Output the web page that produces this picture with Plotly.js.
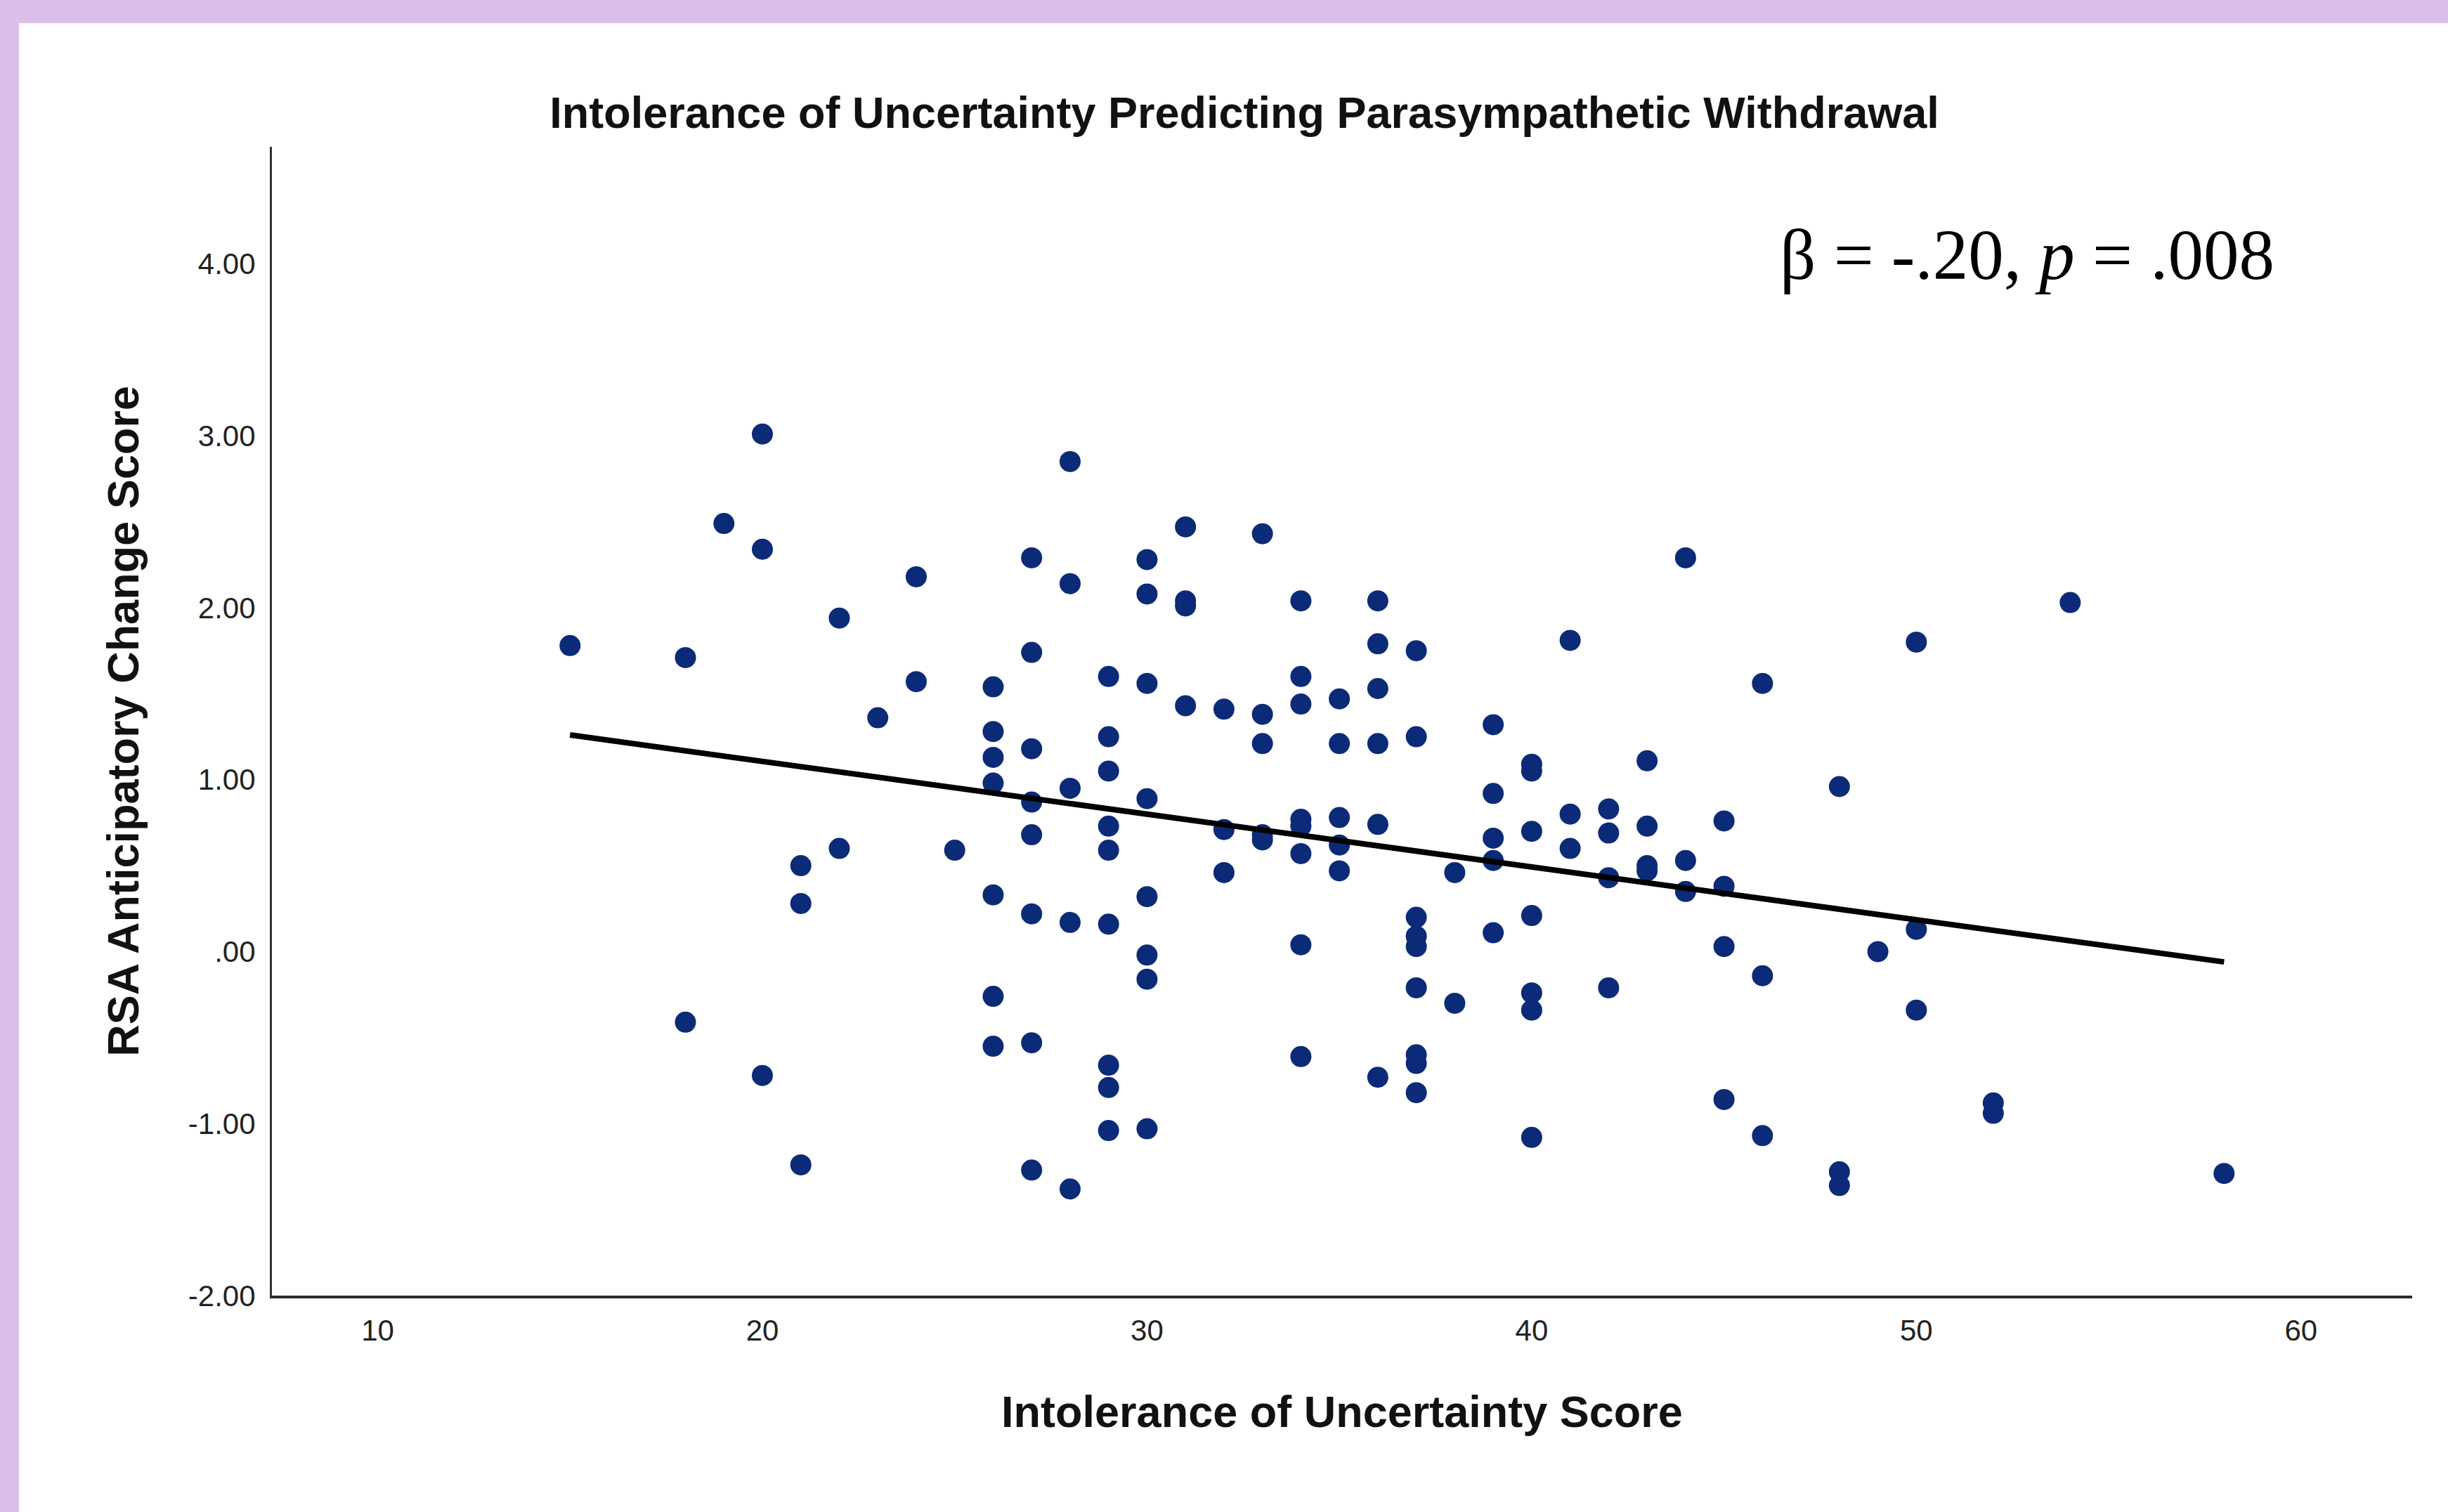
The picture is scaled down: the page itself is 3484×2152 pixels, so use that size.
<!DOCTYPE html>
<html>
<head>
<meta charset="utf-8">
<script src="https://cdn.plot.ly/plotly-3.0.1.min.js"></script>
<style>
  html, body { margin: 0; padding: 0; background: #dabfe8; width: 3484px; height: 2152px; overflow: hidden; }
  #plot { position: absolute; left: 27px; top: 33px; width: 3457px; height: 2119px; background: #ffffff; }
</style>
</head>
<body>
<div id="plot"></div>
<script>
// Intolerance of Uncertainty score (x) and RSA anticipatory change score (y)
const iuScore = [
  15,
  18, 18,
  19,
  20, 20, 20,
  21, 21, 21,
  22, 22,
  23,
  24, 24,
  25,
  26, 26, 26, 26, 26, 26, 26,
  27, 27, 27, 27, 27, 27, 27, 27,
  28, 28, 28, 28, 28,
  29, 29, 29, 29, 29, 29, 29, 29, 29,
  30, 30, 30, 30, 30, 30, 30, 30,
  31, 31, 31, 31,
  32, 32, 32,
  33, 33, 33, 33, 33,
  34, 34, 34, 34, 34, 34, 34, 34,
  35, 35, 35, 35, 35,
  36, 36, 36, 36, 36, 36,
  37, 37, 37, 37, 37, 37, 37, 37, 37,
  38, 38,
  39, 39, 39, 39, 39,
  40, 40, 40, 40, 40, 40, 40,
  41, 41, 41,
  42, 42, 42, 42,
  43, 43, 43, 43,
  44, 44, 44,
  45, 45, 45, 45,
  46, 46, 46,
  48, 48, 48,
  49,
  50, 50, 50,
  52, 52,
  54,
  58
];
const rsaChange = [
  1.78,
  1.71, -0.41,
  2.49,
  3.01, 2.34, -0.72,
  0.50, 0.28, -1.24,
  1.94, 0.60,
  1.36,
  2.18, 1.57,
  0.59,
  1.54, 1.28, 1.13, 0.98, 0.33, -0.26, -0.55,
  2.29, 1.74, 1.18, 0.87, 0.68, 0.22, -0.53, -1.27,
  2.85, 2.14, 0.95, 0.17, -1.38,
  1.60, 1.25, 1.05, 0.73, 0.59, 0.16, -0.66, -0.79, -1.04,
  2.28, 2.08, 1.56, 0.89, 0.32, -0.02, -0.16, -1.03,
  2.47, 2.04, 2.01, 1.43,
  1.41, 0.71, 0.46,
  2.43, 1.38, 1.21, 0.68, 0.65,
  2.04, 1.60, 1.44, 0.77, 0.73, 0.57, 0.04, -0.61,
  1.47, 1.21, 0.78, 0.62, 0.47,
  2.04, 1.79, 1.53, 1.21, 0.74, -0.73,
  1.75, 1.25, 0.20, 0.09, 0.03, -0.21, -0.60, -0.65, -0.82,
  0.46, -0.30,
  1.32, 0.92, 0.66, 0.53, 0.11,
  1.09, 1.05, 0.70, 0.21, -0.24, -0.34, -1.08,
  1.81, 0.80, 0.60,
  0.83, 0.69, 0.43, -0.21,
  1.11, 0.73, 0.50, 0.47,
  2.29, 0.53, 0.35,
  0.76, 0.38, 0.03, -0.86,
  1.56, -0.14, -1.07,
  0.96, -1.28, -1.36,
  0.00,
  1.80, 0.13, -0.34,
  -0.88, -0.94,
  2.03,
  -1.29
];

// Regression line end points
const fitX = [15, 58];
const fitY = [1.26, -0.06];

// Tick labels
const xTickVals = [10, 20, 30, 40, 50, 60];
const xTickText = ["10", "20", "30", "40", "50", "60"];
const yTickVals = [-2, -1, 0, 1, 2, 3, 4];
const yTickText = ["-2.00", "-1.00", ".00", "1.00", "2.00", "3.00", "4.00"];

const chartTitle = "Intolerance of Uncertainty Predicting Parasympathetic Withdrawal";
const xTitle = "Intolerance of Uncertainty Score";
const yTitle = "RSA Anticipatory Change Score";
const statText = "β = -.20, <i>p</i> = .008";

const sans = "'Liberation Sans', Arial, sans-serif";
const serif = "'Liberation Serif', 'Times New Roman', serif";

const traces = [
  {
    type: "scatter",
    mode: "markers",
    x: iuScore,
    y: rsaChange,
    marker: { size: 30, color: "#0b2a78", line: { width: 0 } },
    hoverinfo: "skip"
  },
  {
    type: "scatter",
    mode: "lines",
    x: fitX,
    y: fitY,
    line: { color: "#000000", width: 8 },
    hoverinfo: "skip"
  }
];

const layout = {
  width: 3457,
  height: 2119,
  paper_bgcolor: "#ffffff",
  plot_bgcolor: "#ffffff",
  showlegend: false,
  font: { family: sans },
  margin: { l: 360, r: 51, t: 176, b: 308, pad: 0 },
  title: {
    text: chartTitle,
    font: { family: sans, size: 63, color: "#111111", weight: "bold" },
    xref: "container", x: 0.5045, xanchor: "center",
    yref: "container", y: 0.940, yanchor: "middle"
  },
  xaxis: {
    range: [7.25, 62.89],
    tickvals: xTickVals,
    ticktext: xTickText,
    ticks: "",
    showgrid: false,
    zeroline: false,
    showline: true,
    linecolor: "#2a2a2a",
    linewidth: 4,
    ticklabelstandoff: 10,
    tickfont: { family: sans, size: 42, color: "#222222" },
    title: {
      text: xTitle,
      font: { family: sans, size: 63, color: "#111111", weight: "bold" },
      standoff: 72
    }
  },
  yaxis: {
    range: [-2, 4.68],
    tickvals: yTickVals,
    ticktext: yTickText,
    ticks: "",
    showgrid: false,
    zeroline: false,
    showline: true,
    linecolor: "#333333",
    linewidth: 3,
    ticklabelstandoff: 12,
    tickfont: { family: sans, size: 42, color: "#222222" },
    title: {
      text: yTitle,
      font: { family: sans, size: 63, color: "#111111", weight: "bold" },
      standoff: 50
    }
  },
  annotations: [
    {
      text: statText,
      xref: "x", yref: "y",
      x: 59.35, y: 4.05,
      xanchor: "right", yanchor: "middle",
      showarrow: false,
      font: { family: serif, size: 101, color: "#000000" }
    }
  ]
};

Plotly.newPlot("plot", traces, layout, { staticPlot: true, displayModeBar: false });
</script>
</body>
</html>
